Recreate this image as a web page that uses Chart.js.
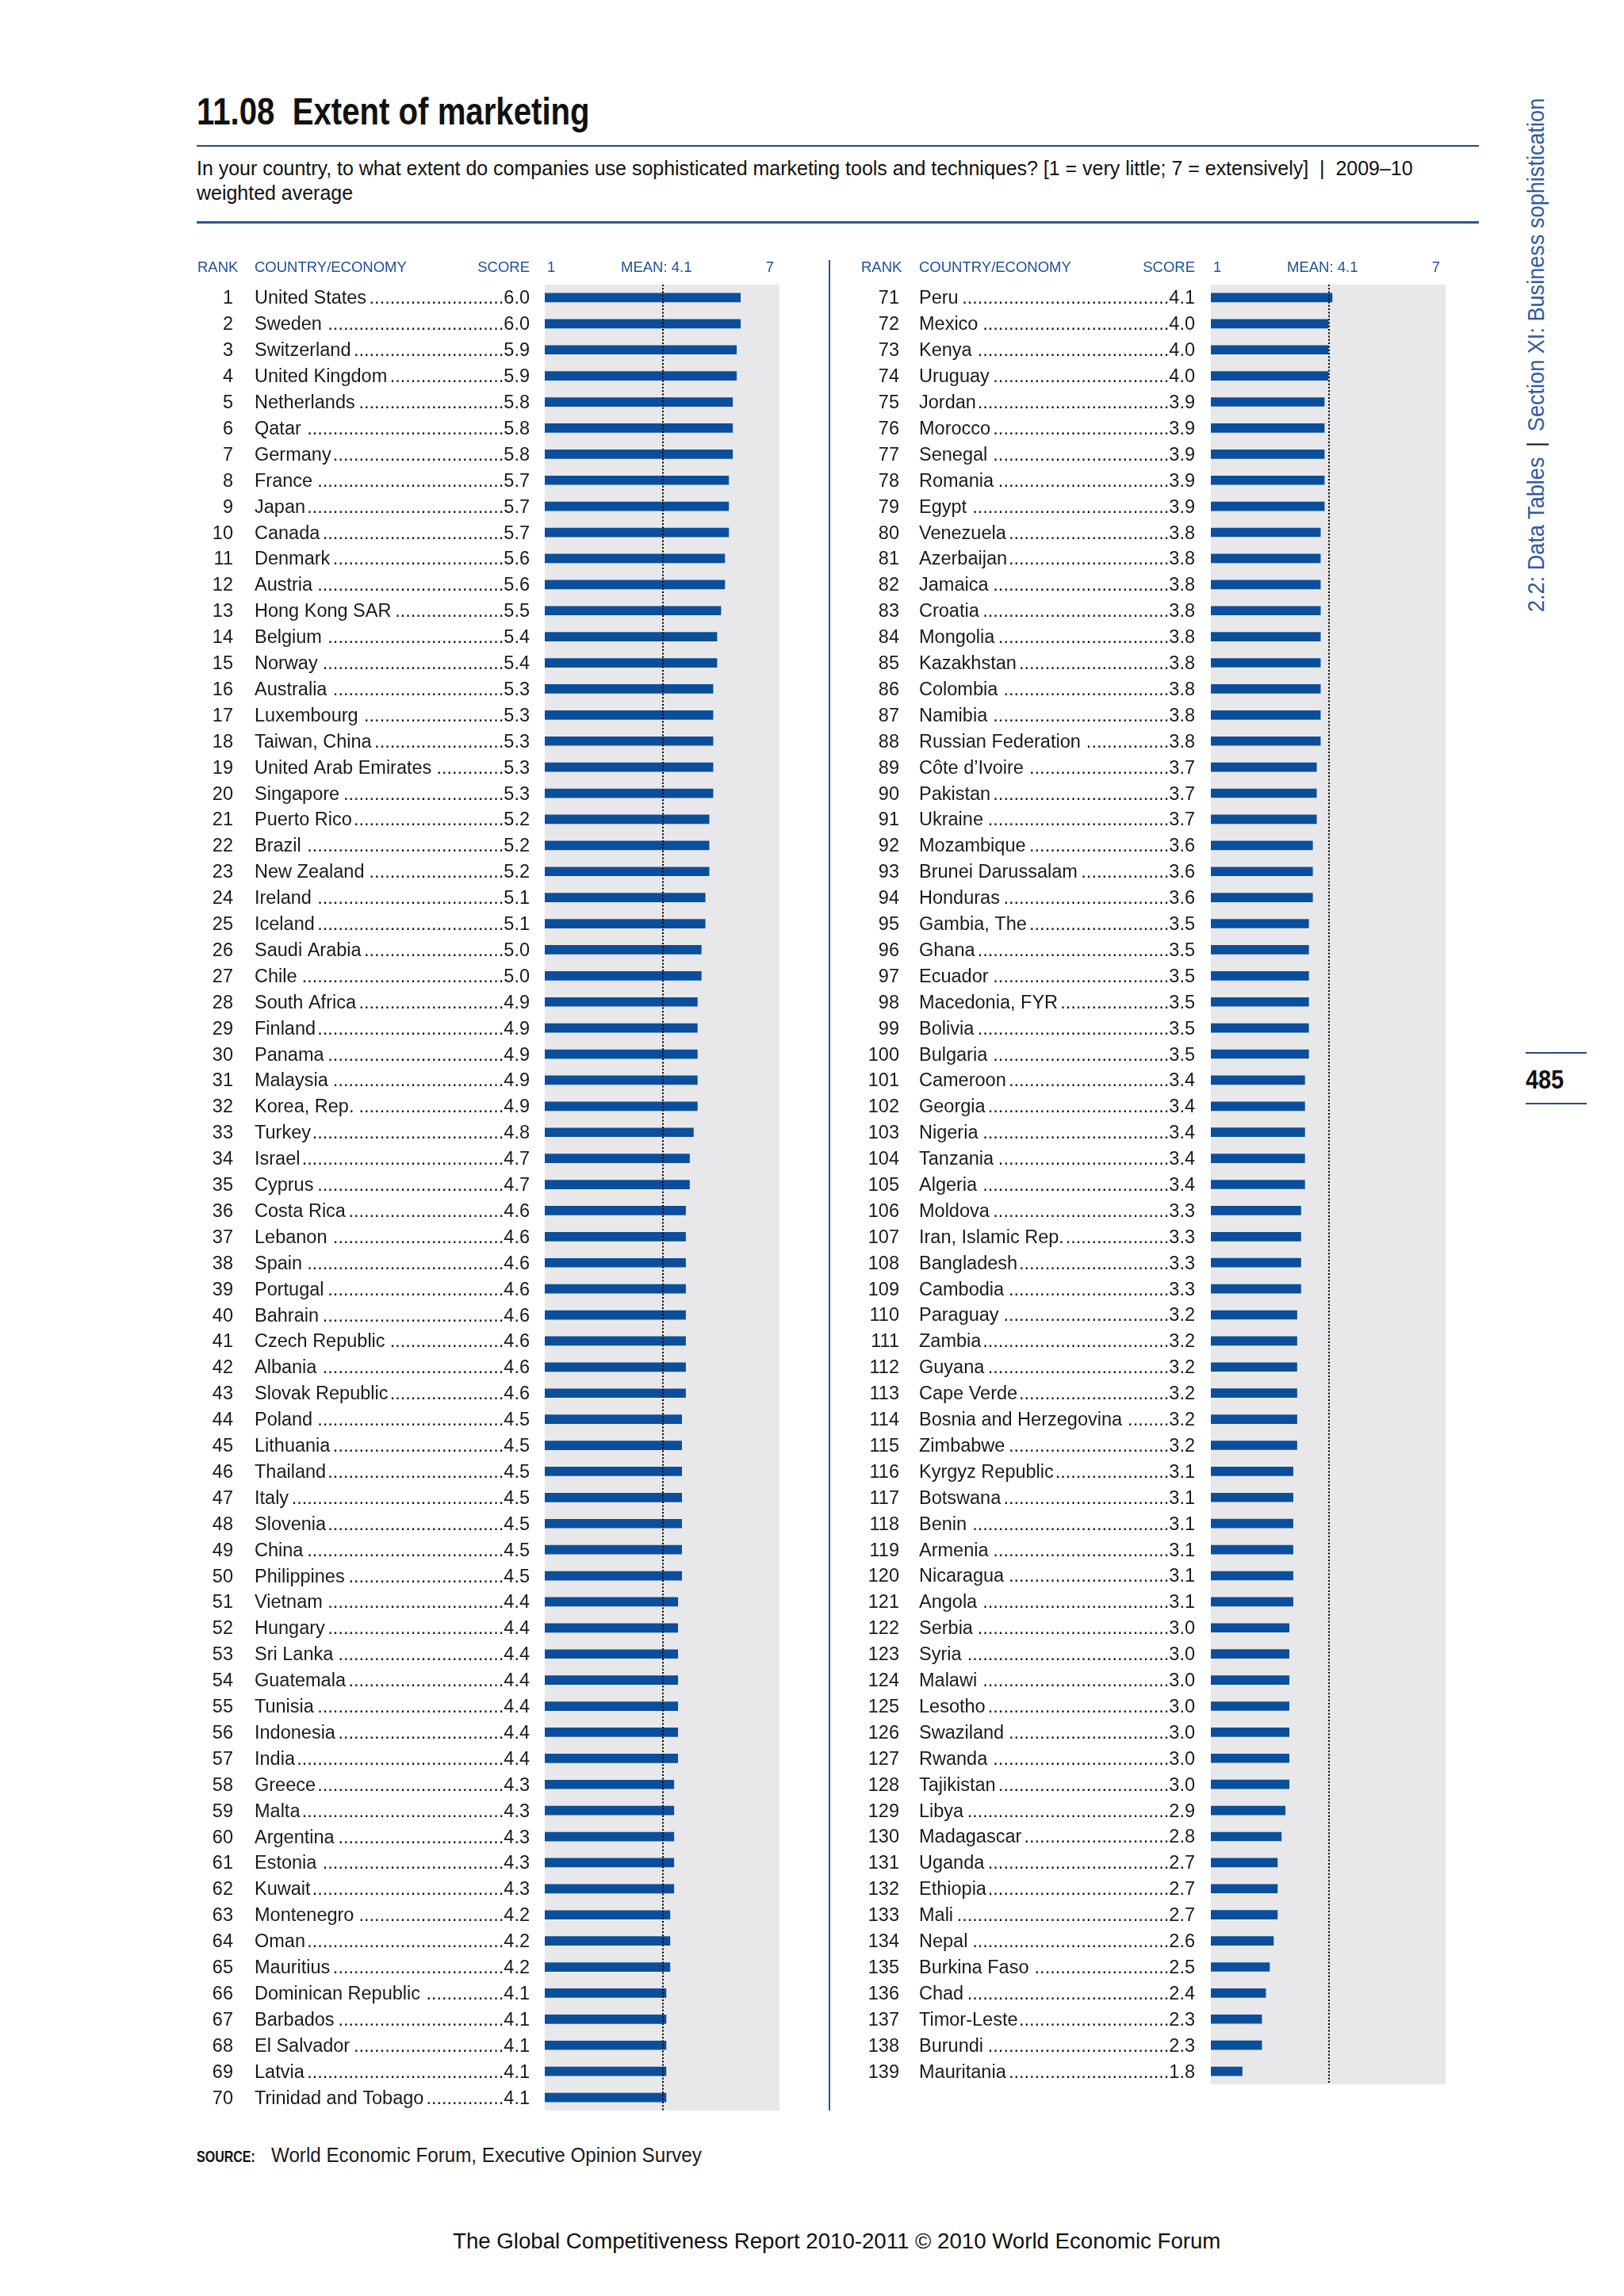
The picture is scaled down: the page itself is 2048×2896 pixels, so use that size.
<!DOCTYPE html>
<html>
<head>
<meta charset="utf-8">
<title>11.08 Extent of marketing</title>
<script src="https://cdn.jsdelivr.net/npm/chart.js@4.4.1/dist/chart.umd.min.js"></script>
<style>
    body { margin: 0; background: #fff; }
    #page { position: relative; width: 2048px; height: 2896px; background: #fff; overflow: hidden;
            font-family: "Liberation Sans", Arial, sans-serif; color: #1a1a1a; }
    .abs { position: absolute; white-space: nowrap; display: inline-block; transform-origin: 0 0; }
    .rule { position: absolute; }
    canvas { position: absolute; }
</style>
</head>
<body>
<div id="page">
    <div id="titulo" class="abs" style="left:248px; top:116px; font-size:49px; line-height:49px; font-weight:bold; color:#111;">11.08&nbsp;&nbsp;Extent of marketing</div>
    <div class="rule" style="left:248px; top:183px; width:1617px; height:2px; background:#2c4b7b;"></div>
    <div id="subtitulo" class="abs" style="left:248px; top:197px; font-size:26px; line-height:31px; color:#111;">In your country, to what extent do companies use sophisticated marketing tools and techniques? [1 = very little; 7 = extensively]&nbsp; |&nbsp; 2009–10<br>weighted average</div>
    <div class="rule" style="left:248px; top:279px; width:1617px; height:3px; background:#2a5597;"></div>

    <!-- separador vertical entre las dos columnas -->
    <div class="rule" style="left:1045px; top:328px; width:2px; height:2334px; background:#2a5597;"></div>

    <canvas id="chartIzq" width="780" height="2382" style="left:230px; top:300px; width:780px; height:2382px;"></canvas>
    <canvas id="chartDer" width="800" height="2349" style="left:1050px; top:300px; width:800px; height:2349px;"></canvas>

    <!-- texto lateral -->
    <div id="lateral" class="abs" style="left:0; top:0; font-size:30px; line-height:30px; color:#2f5ba3;">2.2: Data Tables<span style="color:#111; margin:0 14px;">|</span>Section XI: Business sophistication</div>

    <!-- número de página -->
    <div class="rule" style="left:1924px; top:1327px; width:77px; height:2px; background:#2a4a7c;"></div>
    <div id="pagina" class="abs" style="left:1924px; top:1345px; font-size:33px; line-height:33px; font-weight:bold; color:#111;">485</div>
    <div class="rule" style="left:1924px; top:1391px; width:77px; height:2px; background:#2a4a7c;"></div>

    <div id="fuenteLbl" class="abs" style="left:248px; top:2709px; font-size:21px; line-height:21px; font-weight:bold; color:#111;">SOURCE:</div>
    <div id="fuente" class="abs" style="left:342px; top:2706px; font-size:25px; line-height:25px; color:#1a1a1a;">World Economic Forum, Executive Opinion Survey</div>

    <div id="pie" class="abs" style="left:571px; top:2814px; font-size:27px; line-height:27px; color:#111;">The Global Competitiveness Report 2010-2011 © 2010 World Economic Forum</div>
</div>

<script>
// Datos: ranking, país y puntaje (columna izquierda 1-70, derecha 71-139)
const paisesIzq = [
    'United States', 'Sweden', 'Switzerland', 'United Kingdom', 'Netherlands', 'Qatar', 'Germany',
    'France', 'Japan', 'Canada', 'Denmark', 'Austria', 'Hong Kong SAR', 'Belgium', 'Norway',
    'Australia', 'Luxembourg', 'Taiwan, China', 'United Arab Emirates', 'Singapore', 'Puerto Rico',
    'Brazil', 'New Zealand', 'Ireland', 'Iceland', 'Saudi Arabia', 'Chile', 'South Africa', 'Finland',
    'Panama', 'Malaysia', 'Korea, Rep.', 'Turkey', 'Israel', 'Cyprus', 'Costa Rica', 'Lebanon',
    'Spain', 'Portugal', 'Bahrain', 'Czech Republic', 'Albania', 'Slovak Republic', 'Poland',
    'Lithuania', 'Thailand', 'Italy', 'Slovenia', 'China', 'Philippines', 'Vietnam', 'Hungary',
    'Sri Lanka', 'Guatemala', 'Tunisia', 'Indonesia', 'India', 'Greece', 'Malta', 'Argentina',
    'Estonia', 'Kuwait', 'Montenegro', 'Oman', 'Mauritius', 'Dominican Republic', 'Barbados',
    'El Salvador', 'Latvia', 'Trinidad and Tobago'
];
const puntajesIzq = [
    6.0, 6.0, 5.9, 5.9, 5.8, 5.8, 5.8, 5.7, 5.7, 5.7, 5.6, 5.6, 5.5, 5.4, 5.4,
    5.3, 5.3, 5.3, 5.3, 5.3, 5.2, 5.2, 5.2, 5.1, 5.1, 5.0, 5.0, 4.9, 4.9, 4.9,
    4.9, 4.9, 4.8, 4.7, 4.7, 4.6, 4.6, 4.6, 4.6, 4.6, 4.6, 4.6, 4.6, 4.5, 4.5,
    4.5, 4.5, 4.5, 4.5, 4.5, 4.4, 4.4, 4.4, 4.4, 4.4, 4.4, 4.4, 4.3, 4.3, 4.3,
    4.3, 4.3, 4.2, 4.2, 4.2, 4.1, 4.1, 4.1, 4.1, 4.1
];

const paisesDer = [
    'Peru', 'Mexico', 'Kenya', 'Uruguay', 'Jordan', 'Morocco', 'Senegal', 'Romania', 'Egypt',
    'Venezuela', 'Azerbaijan', 'Jamaica', 'Croatia', 'Mongolia', 'Kazakhstan', 'Colombia',
    'Namibia', 'Russian Federation', 'Côte d’Ivoire', 'Pakistan', 'Ukraine', 'Mozambique',
    'Brunei Darussalam', 'Honduras', 'Gambia, The', 'Ghana', 'Ecuador', 'Macedonia, FYR',
    'Bolivia', 'Bulgaria', 'Cameroon', 'Georgia', 'Nigeria', 'Tanzania', 'Algeria', 'Moldova',
    'Iran, Islamic Rep.', 'Bangladesh', 'Cambodia', 'Paraguay', 'Zambia', 'Guyana', 'Cape Verde',
    'Bosnia and Herzegovina', 'Zimbabwe', 'Kyrgyz Republic', 'Botswana', 'Benin', 'Armenia',
    'Nicaragua', 'Angola', 'Serbia', 'Syria', 'Malawi', 'Lesotho', 'Swaziland', 'Rwanda',
    'Tajikistan', 'Libya', 'Madagascar', 'Uganda', 'Ethiopia', 'Mali', 'Nepal', 'Burkina Faso',
    'Chad', 'Timor-Leste', 'Burundi', 'Mauritania'
];
const puntajesDer = [
    4.1, 4.0, 4.0, 4.0, 3.9, 3.9, 3.9, 3.9, 3.9, 3.8, 3.8, 3.8, 3.8, 3.8, 3.8,
    3.8, 3.8, 3.8, 3.7, 3.7, 3.7, 3.6, 3.6, 3.6, 3.5, 3.5, 3.5, 3.5, 3.5, 3.5,
    3.4, 3.4, 3.4, 3.4, 3.4, 3.3, 3.3, 3.3, 3.3, 3.2, 3.2, 3.2, 3.2, 3.2, 3.2,
    3.1, 3.1, 3.1, 3.1, 3.1, 3.1, 3.0, 3.0, 3.0, 3.0, 3.0, 3.0, 3.0, 2.9, 2.8,
    2.7, 2.7, 2.7, 2.6, 2.5, 2.4, 2.3, 2.3, 1.8
];

// Escala 1-7 y media (la línea punteada está donde la dibuja el original)
const escalaMin = 1;
const escalaMax = 7;
const mediaTexto = 'MEAN: 4.1';
const mediaLinea = 4.02;

const fuenteFila = '23.5px "Liberation Sans", Arial, sans-serif';
const fuenteCabecera = '18.5px "Liberation Sans", Arial, sans-serif';
const azulCabecera = '#1f4f97';

// Plugin que dibuja fondo gris, línea de la media y las columnas de texto
const tablaPlugin = {
    id: 'tabla',
    beforeDatasetsDraw(chart, args, opts) {
        const { ctx, chartArea } = chart;
        ctx.save();
        ctx.fillStyle = '#e8e8ea';
        ctx.fillRect(chartArea.left, chartArea.top, chartArea.right - chartArea.left, chartArea.bottom - chartArea.top);
        ctx.restore();
    },
    afterDatasetsDraw(chart, args, opts) {
        const { ctx, chartArea, scales } = chart;
        const x = Math.round(scales.x.getPixelForValue(mediaLinea));  // línea de 2px nítida
        ctx.save();
        ctx.strokeStyle = '#000';
        ctx.lineWidth = 2;
        ctx.setLineDash([2, 2.3]);
        ctx.beginPath();
        ctx.moveTo(x, chartArea.top);
        ctx.lineTo(x, chartArea.bottom);
        ctx.stroke();
        ctx.restore();
    },
    afterDraw(chart, args, opts) {
        const { ctx, chartArea, scales } = chart;
        const off = opts.offsetX;   // posición del canvas en la página
        ctx.save();

        // Cabecera
        ctx.font = fuenteCabecera;
        ctx.fillStyle = azulCabecera;
        ctx.textBaseline = 'alphabetic';
        const yCab = 43;
        ctx.textAlign = 'left';
        ctx.fillText('RANK', opts.rankLeft - off, yCab);
        ctx.fillText('COUNTRY/ECONOMY', opts.nameLeft - off, yCab);
        ctx.textAlign = 'right';
        ctx.fillText('SCORE', opts.scoreRight - off, yCab);
        ctx.textAlign = 'left';
        ctx.fillText(String(escalaMin), scales.x.getPixelForValue(escalaMin) + 3, yCab);
        ctx.fillText(mediaTexto, scales.x.getPixelForValue(mediaLinea) - 53, yCab);
        ctx.textAlign = 'right';
        ctx.fillText(String(escalaMax), chartArea.right - 7, yCab);

        // Filas
        ctx.font = fuenteFila;
        ctx.fillStyle = '#1a1a1a';
        const anchoPunto = ctx.measureText('.').width;
        const nombres = chart.data.labels;
        const valores = chart.data.datasets[0].data;
        nombres.forEach((nombre, i) => {
            const y = scales.y.getPixelForValue(i) + 8;
            const rank = String(opts.firstRank + i);
            const score = valores[i].toFixed(1);

            ctx.textAlign = 'right';
            ctx.fillText(rank, opts.rankRight - off, y);
            ctx.fillText(score, opts.scoreRight - off, y);

            ctx.textAlign = 'left';
            const xNombre = opts.nameLeft - off;
            ctx.fillText(nombre, xNombre, y);

            // Puntos guía alineados hacia el puntaje
            const finNombre = xNombre + ctx.measureText(nombre).width;
            const inicioScore = opts.scoreRight - off - ctx.measureText(score).width;
            let xp = inicioScore - anchoPunto;
            while (xp > finNombre + 1) {
                ctx.fillText('.', xp, y);
                xp -= anchoPunto;
            }
        });
        ctx.restore();
    }
};

function crearGrafico(idCanvas, paises, puntajes, panel, padding) {
    const ctx = document.getElementById(idCanvas).getContext('2d');
    return new Chart(ctx, {
        type: 'bar',
        data: {
            labels: paises,
            datasets: [{
                data: puntajes,
                backgroundColor: '#0b4f9c',
                borderWidth: 0,
                barThickness: 11
            }]
        },
        options: {
            indexAxis: 'y', // Barras horizontales
            responsive: false,
            animation: false,
            layout: { padding: padding },
            scales: {
                x: { min: escalaMin, max: escalaMax, display: false },
                y: { display: false }
            },
            plugins: {
                legend: { display: false },
                tooltip: { enabled: false },
                tabla: panel
            }
        },
        plugins: [tablaPlugin]
    });
}

// Columna izquierda: canvas en x=230
crearGrafico('chartIzq', paisesIzq, puntajesIzq,
    { offsetX: 230, firstRank: 1, rankLeft: 249, rankRight: 294, nameLeft: 321, scoreRight: 668 },
    { left: 457, right: 27, top: 59, bottom: 20 });

// Columna derecha: canvas en x=1050
crearGrafico('chartDer', paisesDer, puntajesDer,
    { offsetX: 1050, firstRank: 71, rankLeft: 1086, rankRight: 1134, nameLeft: 1159, scoreRight: 1507 },
    { left: 477, right: 27, top: 59, bottom: 20 });

// Ajustar el ancho de los textos condensados del original
function ajustarAncho(id, ancho) {
    const el = document.getElementById(id);
    el.style.transform = `scaleX(${ancho / el.offsetWidth})`;
}
ajustarAncho('titulo', 496);
ajustarAncho('subtitulo', 1534);
ajustarAncho('pagina', 48);
ajustarAncho('fuenteLbl', 74);
ajustarAncho('fuente', 543);
ajustarAncho('pie', 968);

// Texto lateral girado: de y=772 (inicio) a y=124 (fin), línea base en x=1948
const lateral = document.getElementById('lateral');
const escalaLateral = 648 / lateral.offsetWidth;
lateral.style.transform = `translate(1922px, 772px) rotate(-90deg) scale(${escalaLateral}, 1)`;
</script>
</body>
</html>
